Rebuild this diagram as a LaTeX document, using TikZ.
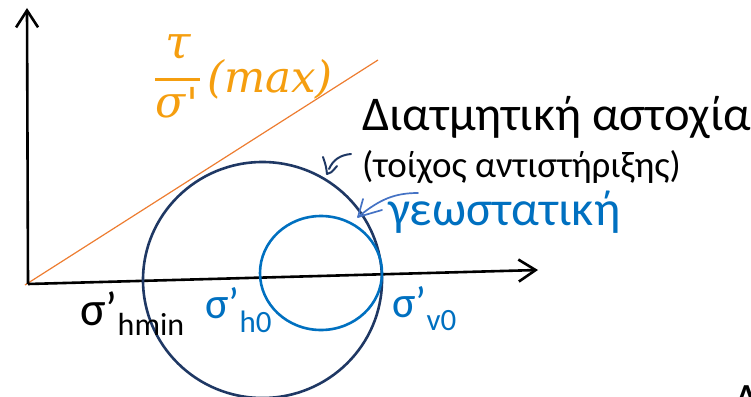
\documentclass[tikz,border=0pt]{standalone}
\usepackage{fontspec}
\setmainfont{Carlito}
\newfontfamily\mathish{DejaVu Serif}
\usetikzlibrary{arrows.meta}
\definecolor{navy}{HTML}{1F3864}
\definecolor{geoblue}{HTML}{0070C0}
\definecolor{arrblue}{HTML}{4472C4}
\definecolor{orline}{HTML}{ED7D31}
\definecolor{ortext}{RGB}{245,158,15}
\tikzset{
  axis/.style={line width=2.6pt, black, -{Straight Barb[length=17pt,width=22pt]}},
  lbl/.style={inner sep=0pt, anchor=base west},
  fs/.style={font=\fontsize{#1}{#1}\selectfont},
  mlbl/.style={inner sep=0pt, ortext, font=\fontsize{#1}{#1}\selectfont\mathish\itshape},
}
\begin{document}
\begin{tikzpicture}[x=1pt,y=-1pt]
\useasboundingbox (0,0) rectangle (751,396);
\clip (0,0) rectangle (751,396);
% coordinates
\coordinate (O) at (28,284);
\coordinate (Ytop) at (27,8);
\coordinate (Xend) at (538,270);
\coordinate (Lstart) at (25,285);
\coordinate (Lend) at (378,60);
\coordinate (C1) at (262.5,280);
\coordinate (C2) at (321,273);
\coordinate (barL) at (155,79);
\coordinate (barR) at (200,79);
% envelope line
\draw[orline, line width=1.2pt] (Lstart) -- (Lend);
% axes
\draw[axis] (O) -- (Ytop);
\draw[axis] (O) -- (Xend);
% circles
\draw[navy, line width=2.6pt] (C1) ellipse [x radius=119.5, y radius=118];
\draw[geoblue, line width=2.6pt] (C2) ellipse [x radius=61, y radius=57];
% orange label tau/sigma'(max)
\node[mlbl=46, anchor=base] (num) at (178,58) {τ};
\draw[ortext, line width=3pt] (barL) -- (barR);
\node[mlbl=44, anchor=base] (den) at (177,117) {σ\kern1pt{\upshape\raisebox{-2pt}{'}}};
\node[mlbl=43.5, anchor=base west] (max) at (207,92) {(max)};
% texts
\node[lbl, fs=48.5] (fail) at (362,130) {Διατμητική αστοχία};
\node[lbl, fs=37] (wall) at (362,177) {(τοίχος αντιστήριξης)};
\node[lbl, geoblue, fs=49] (geo) at (388,225) {γεωστατική};
\node[lbl, fs=48] (shmin) at (80,325) {σ’{\fontsize{32}{32}\selectfont\raisebox{-10pt}{hmin}}};
\node[lbl, geoblue, fs=44] (sh0) at (205,318) {σ’{\fontsize{31}{31}\selectfont\raisebox{-14pt}{h0}}};
\node[lbl, geoblue, fs=44] (sv0) at (392,317) {σ’{\fontsize{31}{31}\selectfont\raisebox{-13pt}{v0}}};
\node[lbl, fs=48] (cut) at (733,416) {Δ};
% hand-drawn annotations
\coordinate (n1) at (351,154);
\coordinate (n2) at (329,169);
\coordinate (n3) at (323,157);
\coordinate (n4) at (327,174);
\coordinate (n5) at (337,166);
\draw[navy, line width=2pt, line cap=round, line join=round]
  (n1) .. controls (340,155) and (333,160) .. (n2);
\draw[navy, line width=2pt, line cap=round, line join=round]
  (n3) .. controls (326,166) .. (n4) .. controls (331,173) .. (n5);
\coordinate (b1) at (418,193);
\coordinate (btip) at (358,217);
\coordinate (bw1) at (363,199);
\coordinate (bw2) at (382,210);
\draw[arrblue, line width=1.7pt, line cap=round, line join=round]
  (b1) .. controls (395,193) and (380,199) .. (btip);
\draw[arrblue, line width=1.7pt, line cap=round, line join=round]
  (bw1) -- (btip) -- (bw2);
\end{tikzpicture}
\end{document}
